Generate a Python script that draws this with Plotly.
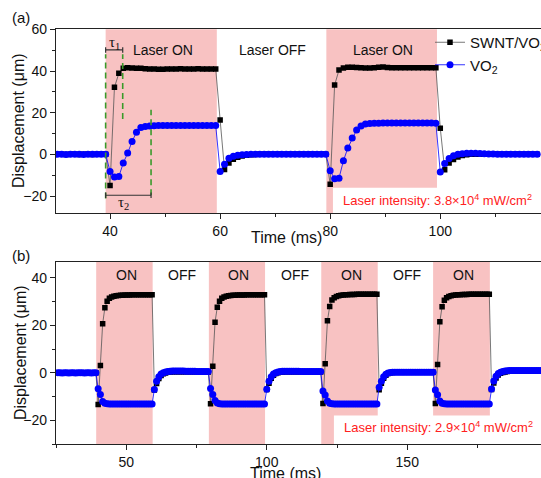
import numpy as np
import plotly.graph_objects as go

# ---------------- data ----------------
# panel (a): sampling grid start / step (ms)
A_T0, A_DT = 30.4, 0.8
A_SWNT = [
    0.1, 0.1, 0.0, 0.1, 0.1, 0.0, 0.1, 0.1, 0.0, 0.1, 0.1, 0.2,
    -14.8, 32.2, 38.9, 41.3, 41.6, 41.5, 41.4, 41.3, 41.1, 41.0, 41.0, 40.9, 40.9,
    41.0, 41.0, 41.0, 41.1, 41.0, 41.0, 41.0, 41.1, 41.0, 41.0, 41.0, 41.0,
    16.6, -7.2, -4.0, -2.3, -1.3, -0.7, -0.3, -0.1, 0.0, 0.1, 0.1, 0.1, 0.1,
    0.1, 0.1, 0.1, 0.1, 0.1, 0.1, 0.1, 0.1, 0.1, 0.1, 0.1, 0.1,
    -14.2, 33.3, 40.5, 41.5, 41.8, 41.8, 41.7, 41.6, 41.5, 41.5, 41.6, 41.8, 41.9,
    41.7, 41.6, 41.6, 41.6, 41.6, 41.6, 41.6, 41.6, 41.6, 41.6, 41.6, 41.6,
    12.6, -7.3, -4.1, -2.4, -1.2, -0.5, -0.1, 0.1, 0.2, 0.2, 0.2, 0.1,
    0.1, 0.1, 0.1, 0.1, 0.1, 0.1, 0.1, 0.1, 0.1, 0.1, 0.1,
]
A_VO2 = [
    0.1, 0.1, 0.0, 0.1, 0.1, 0.1, 0.0, 0.1, 0.1, 0.1, 0.1, 0.2,
    -8.1, -10.8, -10.5, -4.1, 0.7, 6.2, 10.7, 12.9, 13.4, 13.7, 13.8, 13.9, 13.9,
    13.9, 13.9, 13.9, 13.9, 13.9, 13.9, 13.9, 13.9, 13.9, 13.9, 13.9, 13.9,
    -8.1, -4.6, -1.8, -0.8, -0.3, -0.1, 0.0, 0.1, 0.2, 0.2, 0.2, 0.2, 0.2,
    0.2, 0.2, 0.2, 0.1, 0.1, 0.1, 0.1, 0.1, 0.1, 0.1, 0.1, 0.2,
    -7.8, -11.6, -11.3, -3.0, 3.1, 7.9, 11.8, 13.7, 14.6, 14.9, 15.0, 15.0, 15.1,
    15.1, 15.1, 15.1, 15.1, 15.1, 15.1, 15.1, 15.1, 15.1, 15.1, 15.1, 15.0,
    -8.4, -4.3, -1.9, -0.6, 0.1, 0.4, 0.6, 0.6, 0.6, 0.5, 0.4, 0.3,
    0.3, 0.2, 0.2, 0.2, 0.2, 0.2, 0.2, 0.2, 0.2, 0.2, 0.2,
]

# panel (b)
B_T0, B_DT = 25.6, 0.8
B_SWNT = [
    0.1, 0.1, 0.0, 0.1, 0.1, 0.0, 0.1, 0.1, 0.0, 0.1, 0.1, 0.1, 0.0, 0.1, 0.1, 0.0, 0.1, 0.1,
    -13.3, 3.1, 20.6, 27.4, 30.1, 31.3, 31.9, 32.2, 32.4, 32.5, 32.6, 32.6, 32.7,
    32.7, 32.7, 32.8, 32.8, 32.8, 32.8, 32.8, 32.8, 32.8, 32.8, 32.8, 32.8,
    -7.2, -4.5, -2.4, -1.1, -0.4, 0.0, 0.3, 0.4, 0.5, 0.5, 0.5, 0.5, 0.5,
    0.5, 0.5, 0.5, 0.5, 0.5, 0.5, 0.5, 0.4, 0.4, 0.4, 0.4, 0.4,
    -13.0, 2.8, 21.3, 27.6, 30.1, 31.3, 31.9, 32.2, 32.4, 32.5, 32.6, 32.6, 32.7,
    32.7, 32.7, 32.7, 32.8, 32.8, 32.8, 32.8, 32.8, 32.8, 32.8, 32.8, 32.8,
    -7.0, -4.4, -2.3, -1.0, -0.3, 0.1, 0.3, 0.4, 0.5, 0.5, 0.5, 0.5, 0.5,
    0.5, 0.5, 0.5, 0.5, 0.4, 0.4, 0.4, 0.4, 0.4, 0.4, 0.4, 0.4,
    -12.9, 3.8, 21.9, 27.9, 30.6, 31.6, 32.1, 32.4, 32.6, 32.7, 32.8, 32.8, 32.9,
    32.9, 32.9, 33.0, 33.0, 33.0, 33.0, 33.0, 33.0, 33.0, 33.0, 33.0, 33.0,
    -7.1, -4.4, -2.3, -1.0, -0.3, 0.1, 0.2, 0.3, 0.3, 0.3, 0.3, 0.3, 0.3,
    0.3, 0.3, 0.3, 0.3, 0.3, 0.3, 0.3, 0.3, 0.3, 0.3, 0.3, 0.3,
    -12.9, 3.5, 21.5, 27.8, 30.5, 31.6, 32.1, 32.4, 32.6, 32.7, 32.8, 32.8, 32.9,
    32.9, 32.9, 33.0, 33.0, 33.0, 33.0, 33.0, 33.0, 33.0, 33.0, 33.0, 33.0,
    -7.0, -4.3, -2.2, -0.9, -0.2, 0.2, 0.4, 0.6, 0.7, 0.8, 0.8, 0.8,
    0.8, 0.8, 0.8, 0.8, 0.8, 0.8, 0.8, 0.8, 0.8, 0.8, 0.8,
]
B_VO2 = [
    0.1, 0.1, 0.0, 0.1, 0.1, 0.0, 0.1, 0.1, 0.0, 0.1, 0.1, 0.1, 0.0, 0.1, 0.1, 0.0, 0.1, 0.1,
    -6.7, -9.1, -12.0, -12.8, -13.0, -13.1, -13.1, -13.1, -13.1, -13.1, -13.1, -13.1, -13.1,
    -13.1, -13.1, -13.1, -13.1, -13.1, -13.1, -13.1, -13.1, -13.1, -13.1, -13.1, -13.1,
    -7.0, -3.5, -1.6, -0.5, 0.1, 0.4, 0.6, 0.7, 0.8, 0.8, 0.8, 0.8, 0.8,
    0.8, 0.7, 0.7, 0.7, 0.7, 0.7, 0.6, 0.6, 0.6, 0.6, 0.6, 0.6,
    -6.6, -9.1, -11.6, -12.7, -13.0, -13.1, -13.1, -13.1, -13.1, -13.1, -13.1, -13.1, -13.1,
    -13.1, -13.1, -13.1, -13.1, -13.1, -13.1, -13.1, -13.1, -13.1, -13.1, -13.1, -13.1,
    -6.9, -3.5, -1.6, -0.5, 0.1, 0.4, 0.6, 0.7, 0.7, 0.7, 0.7, 0.7, 0.7,
    0.7, 0.7, 0.6, 0.6, 0.6, 0.6, 0.6, 0.6, 0.6, 0.6, 0.6, 0.6,
    -7.6, -9.3, -11.8, -12.8, -13.0, -13.1, -13.1, -13.1, -13.1, -13.1, -13.1, -13.1, -13.1,
    -13.1, -13.1, -13.1, -13.1, -13.1, -13.1, -13.1, -13.1, -13.1, -13.1, -13.1, -13.1,
    -6.0, -3.5, -1.6, -0.6, 0.0, 0.2, 0.3, 0.3, 0.3, 0.3, 0.3, 0.3, 0.3,
    0.3, 0.3, 0.3, 0.3, 0.3, 0.3, 0.3, 0.3, 0.3, 0.3, 0.3, 0.3,
    -7.2, -9.2, -11.8, -12.8, -13.0, -13.1, -13.1, -13.1, -13.1, -13.1, -13.1, -13.1, -13.1,
    -13.1, -13.1, -13.1, -13.1, -13.1, -13.1, -13.1, -13.1, -13.1, -13.1, -13.1, -13.1,
    -6.8, -3.4, -1.4, -0.3, 0.3, 0.6, 0.8, 0.9, 1.0, 1.0, 1.0, 1.0,
    1.0, 1.0, 1.0, 1.0, 1.0, 1.0, 1.0, 1.0, 1.0, 1.0, 1.0,
]

# laser-on windows (ms) and labels
A_ON = [(39.2, 59.4), (79.3, 99.4)]
B_ON = [(39.3, 59.4), (79.4, 99.4), (119.4, 139.5), (159.2, 179.4)]
A_LABELS = [(49.6, "Laser ON"), (69.6, "Laser OFF"), (89.6, "Laser ON")]
B_LABELS = [(50, "ON"), (70, "OFF"), (90, "ON"), (110, "OFF"), (130, "ON"), (150, "OFF"), (170, "ON")]
TAU1 = (39.2, 42.3)
TAU2 = (39.2, 47.45)

t_a = np.round(A_T0 + A_DT * np.arange(len(A_VO2)), 2)
t_b = np.round(B_T0 + B_DT * np.arange(len(B_VO2)), 2)

# ---------------- figure ----------------
W, H = 541, 478
FONT = "Liberation Sans, Arial, sans-serif"
PINK = "#F8C2C2"
BLUE = "#0000FF"
GREEN = "#3A9A2A"
RED = "#FF2020"
AX = "#222222"

fig = go.Figure()

def add_series(t, sw, vo, xa, ya, show):
    fig.add_trace(go.Scatter(x=t, y=sw, mode="lines+markers", name="SWNT/VO<sub>2</sub>",
                             line=dict(color="#555555", width=0.8),
                             marker=dict(symbol="square", size=5.5, color="black"),
                             xaxis=xa, yaxis=ya, showlegend=show, legendgroup="s"))
    fig.add_trace(go.Scatter(x=t, y=vo, mode="lines+markers", name="VO<sub>2</sub>",
                             line=dict(color=BLUE, width=0.8),
                             marker=dict(symbol="circle", size=7, color=BLUE),
                             xaxis=xa, yaxis=ya, showlegend=show, legendgroup="v"))

add_series(t_a, A_SWNT, A_VO2, "x", "y", True)
add_series(t_b, B_SWNT, B_VO2, "x2", "y2", False)

shapes = []
for a, b in A_ON:
    shapes.append(dict(type="rect", xref="x", yref="y domain", x0=a, x1=b, y0=0, y1=1,
                       fillcolor=PINK, line_width=0, layer="below"))
for a, b in B_ON:
    shapes.append(dict(type="rect", xref="x2", yref="y2 domain", x0=a, x1=b, y0=0, y1=1,
                       fillcolor=PINK, line_width=0, layer="below"))
# white boxes behind intensity labels
shapes.append(dict(type="rect", xref="x", yref="y", x0=80.5, x1=125, y0=-28, y1=-15.9,
                   fillcolor="white", line_width=0, layer="below"))
shapes.append(dict(type="rect", xref="x2", yref="y2", x0=123.9, x1=210, y0=-30, y1=-17.9,
                   fillcolor="white", line_width=0, layer="below"))
# green dashed guide lines
for x, y0, y1 in [(TAU1[0], -21, 48), (TAU1[1], 17, 48), (TAU2[1], -19.5, 21.5)]:
    shapes.append(dict(type="line", xref="x", yref="y", x0=x, x1=x, y0=y0, y1=y1,
                       line=dict(color=GREEN, width=1.6, dash="6px,4px")))
# tau brackets
for (a, b), yy in [(TAU1, 50.1), (TAU2, -19.5)]:
    shapes.append(dict(type="line", xref="x", yref="y", x0=a, x1=b, y0=yy, y1=yy,
                       line=dict(color="#333333", width=1.2)))
    for xx in (a, b):
        shapes.append(dict(type="line", xref="x", yref="y", x0=xx, x1=xx, y0=yy - 1.3, y1=yy + 1.3,
                           line=dict(color="#333333", width=1.2)))

C = dict(xanchor="center", yanchor="middle", showarrow=False)
ann = []
for x, s in A_LABELS:
    ann.append(dict(x=x, y=50.1, xref="x", yref="y", text=s, font=dict(size=14, color="#111"), **C))
for x, s in B_LABELS:
    ann.append(dict(x=x, y=41.1, xref="x2", yref="y2", text=s, font=dict(size=14, color="#111"), **C))
SERIF = "Liberation Serif, Times New Roman, serif"
ann.append(dict(x=40.75, y=53.6, xref="x", yref="y", text="τ<sub>1</sub>",
                font=dict(size=15, color="#111", family=SERIF), **C))
ann.append(dict(x=42.5, y=-23.2, xref="x", yref="y", text="τ<sub>2</sub>",
                font=dict(size=15, color="#111", family=SERIF), **C))
ann.append(dict(x=99.5, y=-21.7, xref="x", yref="y",
                text="Laser intensity: 3.8×10<sup>4</sup> mW/cm<sup>2</sup>",
                font=dict(size=13, color=RED), **C))
ann.append(dict(x=161.0, y=-22.9, xref="x2", yref="y2",
                text="Laser intensity: 2.9×10<sup>4</sup> mW/cm<sup>2</sup>",
                font=dict(size=13, color=RED), **C))
# panel letters and axis titles (paper coords from pixels)
def px(x, y):
    return x / W, 1 - y / H
for (x, y), s, ang, fs in [((21, 17.5), "(a)", 0, 15), ((21, 256), "(b)", 0, 15),
                           ((19, 121), "Displacement (μm)", -90, 16),
                           ((20, 353), "Displacement (μm)", -90, 16),
                           ((286, 237), "Time (ms)", 0, 16), ((285, 473), "Time (ms)", 0, 16)]:
    xx, yy = px(x, y)
    ann.append(dict(x=xx, y=yy, xref="paper", yref="paper", text=s, textangle=ang,
                    font=dict(size=fs, color="#111"), **C))

axis_common = dict(showline=True, linecolor=AX, linewidth=1.2, ticks="outside", ticklen=5,
                   tickwidth=1.2, tickcolor=AX, showgrid=False, zeroline=False,
                   tickfont=dict(size=14, color="#111"),
                   minor=dict(ticks="outside", ticklen=3, tickwidth=1.1, tickcolor=AX, showgrid=False))

xd = [56 / W, 1]
fig.update_layout(
    width=W, height=H, margin=dict(l=0, r=0, t=0, b=0, autoexpand=False),
    paper_bgcolor="white", plot_bgcolor="white",
    font=dict(family=FONT, color="#111"),
    showlegend=True,
    legend=dict(x=430 / W, y=1 - 26 / H, xanchor="left", yanchor="top",
                bgcolor="rgba(0,0,0,0)", font=dict(size=15, color="#111"),
                itemwidth=30, tracegroupgap=0),
    xaxis=dict(domain=xd, range=[30.18, 118.3], dtick=20, tick0=0, anchor="y", mirror=True,
               **{**axis_common, "minor": dict(axis_common["minor"], dtick=10)}),
    yaxis=dict(domain=[1 - 213 / H, 1 - 29.3 / H], range=[-28, 60], dtick=20, tick0=0, anchor="x",
               **{**axis_common, "minor": dict(axis_common["minor"], dtick=10)}),
    xaxis2=dict(domain=xd, range=[25.0, 197.6], dtick=50, tick0=0, anchor="y2", mirror=True,
                **{**axis_common, "minor": dict(axis_common["minor"], dtick=25)}),
    yaxis2=dict(domain=[1 - 444.3 / H, 1 - 261.7 / H], range=[-30, 46.7], dtick=20, tick0=0, anchor="x2",
                **{**axis_common, "minor": dict(axis_common["minor"], dtick=10)}),
    shapes=shapes, annotations=ann,
)

fig.write_html("out.html", config={"displayModeBar": False},
               post_script="document.body.style.margin='0';document.body.style.overflow='hidden';")
